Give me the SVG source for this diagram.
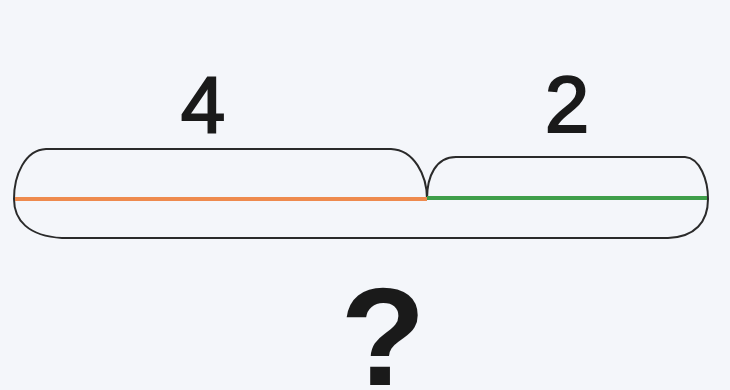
<svg xmlns="http://www.w3.org/2000/svg" width="730" height="390" viewBox="0 0 730 390">
<style>
.outline{fill:none;stroke:#2a2a2a;stroke-width:2}
.num{font-family:"Liberation Sans",Arial,sans-serif;font-size:80px;fill:#1a1a1a;stroke:#1a1a1a;stroke-width:2;text-anchor:middle}
.q{font-family:"Liberation Sans",Arial,sans-serif;font-size:140px;font-weight:bold;fill:#1a1a1a;text-anchor:middle}
</style>
<rect width="730" height="390" fill="#f4f6fa"/>
<g id="bar">
<path class="outline" d="M46,149 L391,149 C414,150 427,175 427,199 C427,176 436,157 456,157 L685,157 C700,158 708,180 708,199 C708,222 695,237 668,238 L62,238 C28,236 14,220 14,199 C14,175 25,150 46,149 Z"/>
</g>
<g id="connectors">
<line x1="15" y1="199" x2="427" y2="199" stroke="#ee8a4e" stroke-width="4"/>
<line x1="427" y1="198" x2="707" y2="198" stroke="#3f9e4a" stroke-width="4"/>
</g>
<g id="label-4"><text class="num" x="203" y="132">4</text></g>
<g id="label-2"><text class="num" x="567" y="132">2</text></g>
<g id="label-q"><text class="q" x="383" y="385">?</text></g>
</svg>
